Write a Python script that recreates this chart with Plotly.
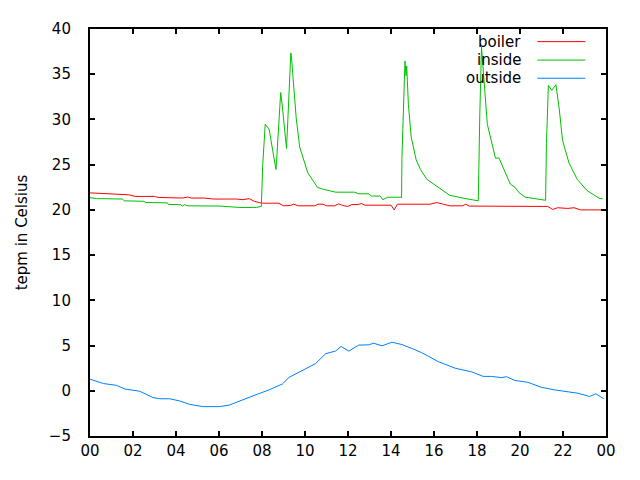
import pandas as pd
import plotly.graph_objects as go

# ---- data (hours of day, temperature in Celsius) ----
boiler_h = [0, 1.04, 1.64, 1.8, 2.1, 3.0, 3.17, 4.08, 4.3, 4.54, 4.7, 5.3, 5.75, 6.81, 7.11, 7.41,
            7.64, 7.87, 8.02, 8.78, 9.0, 9.32, 9.47, 9.7, 10.46, 10.6, 10.84, 11.0, 11.38, 11.56,
            11.75, 11.98, 12.18, 12.48, 12.63, 12.79, 13.39, 14.0, 14.15, 14.3, 15.82, 16.13,
            16.43, 16.74, 17.34, 17.47, 17.65, 18.56, 18.71, 20.99, 21.29, 21.52, 21.75, 22.21,
            22.51, 22.81, 24.0]
boiler_v = [21.88, 21.74, 21.74, 21.67, 21.49, 21.49, 21.38, 21.38, 21.31, 21.42, 21.31, 21.31,
            21.2, 21.2, 21.13, 21.24, 20.95, 20.81, 20.74, 20.74, 20.45, 20.49, 20.63, 20.45,
            20.45, 20.63, 20.63, 20.45, 20.45, 20.67, 20.49, 20.38, 20.58, 20.6, 20.7, 20.52,
            20.52, 20.52, 19.99, 20.63, 20.63, 20.81, 20.63, 20.45, 20.45, 20.63, 20.42, 20.42,
            20.34, 20.34, 20.38, 20.05, 20.24, 20.16, 20.24, 20.0, 20.0]

inside_h = [0, 0.3, 1.5, 1.6, 2.5, 2.6, 3.6, 3.65, 4.2, 4.3, 4.4, 4.55, 6.05, 6.97, 7.73, 7.97,
            8.03, 8.11, 8.15, 8.33, 8.46, 8.61, 8.65, 8.68, 8.76, 8.83, 8.87, 8.94, 9.02, 9.09,
            9.14, 9.2, 9.26, 9.34, 9.38, 9.46, 9.59, 9.75, 10.13, 10.58, 10.81, 11.42, 12.3,
            12.5, 12.95, 13.1, 13.5, 13.62, 13.85, 14.46, 14.49, 14.51, 14.65, 14.7, 14.73,
            14.81, 14.94, 15.17, 15.37, 15.67, 16.28, 16.74, 17.49, 18.03, 18.06, 18.13, 18.21,
            18.48, 18.71, 18.86, 19.02, 19.24, 19.55, 19.77, 19.93, 20.23, 20.68, 21.14, 21.19,
            21.23, 21.32, 21.48, 21.67, 21.82, 21.98, 22.28, 22.66, 23.12, 23.72, 23.85]
inside_v = [21.35, 21.25, 21.2, 21.0, 20.95, 20.81, 20.78, 20.6, 20.58, 20.42, 20.58, 20.45,
            20.42, 20.27, 20.27, 20.38, 24.8, 27.86, 29.47, 28.93, 26.97, 24.82, 24.46, 25.5,
            28.75, 31.98, 32.98, 31.6, 29.5, 28.04, 26.79, 29.83, 33.41, 37.35, 36.6, 33.77,
            30.19, 26.97, 24.1, 22.49, 22.31, 21.96, 21.96, 21.78, 21.78, 21.53, 21.53, 21.13,
            21.4, 21.4, 21.35, 25.9, 36.46, 34.84, 35.92, 31.62, 28.04, 25.53, 24.46, 23.38,
            22.31, 21.6, 21.24, 20.96, 21.0, 30.5, 38.0, 29.47, 26.97, 25.71, 25.75, 24.46,
            22.85, 22.49, 21.96, 21.42, 21.24, 21.06, 21.06, 27.33, 33.77, 33.23, 33.84, 31.26,
            27.68, 25.18, 23.38, 22.13, 21.24, 21.24]

outside_h = [0, 0.62, 1.23, 1.62, 2.31, 2.93, 3.24, 3.70, 4.17, 4.63, 5.25, 6.02, 6.48, 7.10,
             7.72, 8.33, 8.95, 9.26, 9.88, 10.49, 10.96, 11.42, 11.68, 12.04, 12.5, 12.96, 13.19,
             13.58, 14.04, 14.51, 14.97, 15.43, 16.2, 16.98, 17.75, 18.29, 18.67, 19.14, 19.37,
             19.75, 20.37, 20.99, 21.6, 22.22, 22.69, 23.23, 23.53, 23.89]
outside_v = [1.28, 0.8, 0.6, 0.2, -0.05, -0.75, -0.88, -0.88, -1.12, -1.5, -1.75, -1.75, -1.58,
             -1.05, -0.44, 0.1, 0.75, 1.48, 2.28, 3.0, 4.1, 4.39, 4.9, 4.39, 5.05, 5.08, 5.26,
             4.97, 5.37, 5.11, 4.68, 4.21, 3.22, 2.5, 2.09, 1.59, 1.59, 1.45, 1.56, 1.15, 0.93,
             0.39, 0.1, -0.09, -0.27, -0.63, -0.33, -0.88]

DAY = pd.Timestamp("2000-01-01")

def to_time(hours):
    return [DAY + pd.Timedelta(hours=h) for h in hours]

series = [("boiler", boiler_h, boiler_v, "#ff0000"),
          ("inside", inside_h, inside_v, "#00c000"),
          ("outside", outside_h, outside_v, "#0080ff")]

FONT = "DejaVu Sans"
INK = "#000000"

# The page places the figure 8px from the top-left corner; compensate so the
# plot box lands on the reference pixels (80..606 x 22..441).
OFF = 8
W, H = 624, 464
L, R, T, B = 80 - OFF, 606 - OFF, 22 - OFF, 441 - OFF

fig = go.Figure()
for name, hx, vy, col in series:
    fig.add_trace(go.Scatter(x=to_time(hx), y=vy, mode="lines", name=name,
                             line=dict(color=col, width=1), showlegend=False))

def px(x):
    return (x - OFF - L) / (R - L)
def py(y):
    return (B - (y - OFF)) / (B - T)

# gnuplot-style key: text right-aligned, line sample to the right
rows = [35, 54, 72.7]
for (name, _, _, col), ry in zip(series, rows):
    fig.add_annotation(x=px(521), y=py(ry), xref="paper", yref="paper", text=name,
                       showarrow=False, xanchor="right", yanchor="middle",
                       font=dict(family=FONT, size=15, color=INK))
    fig.add_shape(type="line", xref="paper", yref="paper", x0=px(536), x1=px(585),
                  y0=py(ry), y1=py(ry), line=dict(color=col, width=1))

HOUR_MS = 3600 * 1000
fig.update_layout(
    width=W, height=H,
    margin=dict(l=L, r=W - R, t=T, b=H - B),
    plot_bgcolor="#ffffff",
    font=dict(family=FONT, size=15, color=INK),
    xaxis=dict(type="date", range=[DAY, DAY + pd.Timedelta(hours=24)],
               tick0=DAY, dtick=2 * HOUR_MS, tickformat="%H",
               ticks="inside", ticklen=5, tickwidth=1.5, tickcolor=INK,
               showline=True, linecolor=INK, linewidth=1.5, mirror="ticks",
               showgrid=False, zeroline=False),
    yaxis=dict(range=[-5, 40], dtick=5, tick0=0,
               ticks="inside", ticklen=5, tickwidth=1.5, tickcolor=INK,
               ticksuffix="\u00a0\u00a0\u00a0",
               showline=True, linecolor=INK, linewidth=1.5, mirror="ticks",
               showgrid=False, zeroline=False,
               title=dict(text="tepm in Celsius", standoff=18,
                          font=dict(family=FONT, size=15, color=INK))),
)

fig.write_html("out.html")
